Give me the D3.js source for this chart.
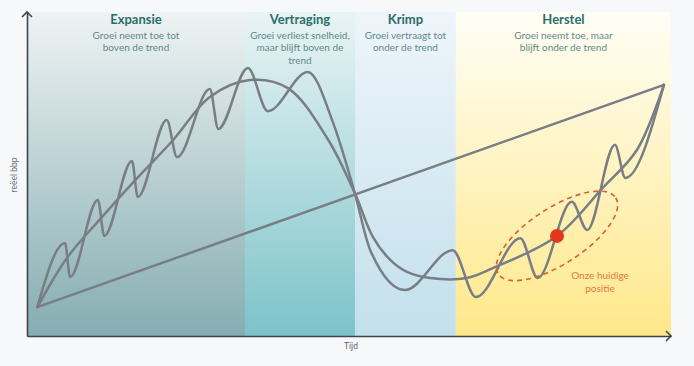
<!DOCTYPE html>
<html><head><meta charset="utf-8">
<script src="https://cdn.jsdelivr.net/npm/d3@7"></script>
<style>
html,body{margin:0;padding:0;background:#f7f8fa;}
svg{display:block;font-family:Lato,"Open Sans",sans-serif;}
</style></head><body>
<svg id="c" width="694" height="366"></svg>
<script>
// ---- data ----
const phases = ["Expansie", "Vertraging", "Krimp", "Herstel"];
const phaseStart = [0, 33.85, 50.93, 66.6];
const phaseEnd = [33.85, 50.93, 66.6, 100];
const phaseSub = [
  ["Groei neemt toe tot", "boven de trend"],
  ["Groei verliest snelheid,", "maar blijft boven de", "trend"],
  ["Groei vertraagt tot", "onder de trend"],
  ["Groei neemt toe, maar", "blijft onder de trend"]
];
const trendT = [1.6, 98.9];
const trendV = [8.9, 77.5];
const smoothT = [1.6, 6.2, 11.5, 16.8, 22.7, 28.4, 34.6, 40.5, 46.6, 50.9, 53.7, 56.4, 59.0, 62.6, 68.3, 72.4, 82.3, 89.4, 94.7, 98.9];
const smoothV = [8.9, 24.1, 36.4, 48.1, 60.5, 73.8, 79.0, 76.5, 61.1, 44.1, 30.6, 23.5, 19.8, 17.9, 17.9, 21.0, 30.9, 45.7, 57.4, 77.5];
const cycleT = [1.6, 5.9, 6.7, 11.0, 12.0, 16.3, 17.2, 21.7, 23.3, 28.4, 29.7, 34.3, 37.4, 43.6, 47.5, 50.9, 53.3, 58.7, 66.1, 69.7, 76.6, 79.3, 84.6, 87.0, 91.3, 92.9, 98.9];
const cycleV = [8.9, 28.7, 18.2, 42.0, 30.9, 54.0, 42.9, 66.7, 55.2, 76.2, 63.9, 82.7, 69.4, 81.5, 66.0, 44.1, 26.5, 14.2, 26.5, 12.0, 30.2, 17.9, 41.4, 32.7, 59.0, 48.8, 77.5];
const currentT = 82.3, currentV = 30.9;
const currentLabel = ["Onze huidige", "positie"];
const xLabel = "Tijd", yLabel = "reëel bbp";

// ---- layout ----
const svg = d3.select("#c");
const x = d3.scaleLinear().domain([0, 100]).range([27, 671]);
const y = d3.scaleLinear().domain([0, 100]).range([336, 12]);
const bandTop = ["#eef3f4", "#e9f4f5", "#eef5fa", "#fffef6"];
const bandBot = ["#85adb1", "#7cc3c9", "#c2e0ec", "#ffe88a"];

const defs = svg.append("defs");
phases.forEach((p, i) => {
  const g = defs.append("linearGradient").attr("id", "g" + i)
    .attr("x1", 0).attr("y1", 0).attr("x2", 0).attr("y2", 1);
  g.append("stop").attr("offset", "0%").attr("stop-color", bandTop[i]);
  g.append("stop").attr("offset", "100%").attr("stop-color", bandBot[i]);
});

svg.selectAll("rect.band").data(phases).join("rect").attr("class", "band")
  .attr("x", (d, i) => x(phaseStart[i]))
  .attr("width", (d, i) => x(phaseEnd[i]) - x(phaseStart[i]))
  .attr("y", y(100)).attr("height", y(0) - y(100))
  .attr("fill", (d, i) => `url(#g${i})`);

// headers
phases.forEach((p, i) => {
  const cx = (x(phaseStart[i]) + x(phaseEnd[i])) / 2;
  svg.append("text").attr("x", cx).attr("y", 24).attr("text-anchor", "middle")
    .attr("font-size", 13).attr("font-weight", 700).attr("fill", "#2b6e68").text(p);
  phaseSub[i].forEach((s, j) => {
    svg.append("text").attr("x", cx).attr("y", 38.5 + j * 12.5).attr("text-anchor", "middle")
      .attr("font-size", 10).attr("fill", "#5e8b88").text(s);
  });
});

// lines
const toPts = (T, V) => T.map((t, i) => [t, V[i]]);
const lineStyle = s => s.attr("fill", "none").attr("stroke", "#797e84").attr("stroke-width", 2.5)
  .attr("stroke-linejoin", "round").attr("stroke-linecap", "round");
svg.append("path").datum(toPts(trendT, trendV))
  .attr("d", d3.line().x(d => x(d[0])).y(d => y(d[1]))).call(lineStyle);
svg.append("path").datum(toPts(smoothT, smoothV))
  .attr("d", d3.line().x(d => x(d[0])).y(d => y(d[1])).curve(d3.curveCatmullRom.alpha(0.5))).call(lineStyle);
svg.append("path").datum(toPts(cycleT, cycleV))
  .attr("d", d3.line().x(d => x(d[0])).y(d => y(d[1])).curve(d3.curveMonotoneX)).call(lineStyle);

// current position annotation
svg.append("ellipse").attr("cx", x(currentT)).attr("cy", y(currentV))
  .attr("rx", 70).attr("ry", 28)
  .attr("transform", `rotate(-33 ${x(currentT)} ${y(currentV)})`)
  .attr("fill", "none").attr("stroke", "#d4612b").attr("stroke-width", 1.6)
  .attr("stroke-dasharray", "5,4");
svg.append("circle").attr("cx", x(currentT)).attr("cy", y(currentV)).attr("r", 7)
  .attr("fill", "#e0381c");
currentLabel.forEach((s, j) => {
  svg.append("text").attr("x", 600).attr("y", 279 + j * 13).attr("text-anchor", "middle")
    .attr("font-size", 10).attr("fill", "#e07a45").text(s);
});

// axes
const ax = svg.append("g").attr("transform", `translate(0,${y(0)})`)
  .call(d3.axisBottom(x).ticks(0).tickSizeOuter(0));
const ay = svg.append("g").attr("transform", `translate(${x(0)},0)`)
  .call(d3.axisLeft(y).ticks(0).tickSizeOuter(0));
[ax, ay].forEach(a => a.select(".domain").attr("stroke", "#3b464d").attr("stroke-width", 1.6));
svg.append("path").attr("d", `M${x(100) - 5},${y(0) - 5}L${x(100)},${y(0)}L${x(100) - 5},${y(0) + 5}`)
  .attr("fill", "none").attr("stroke", "#3b464d").attr("stroke-width", 1.6);
svg.append("path").attr("d", `M${x(0) - 5},${y(100) + 5}L${x(0)},${y(100)}L${x(0) + 5},${y(100) + 5}`)
  .attr("fill", "none").attr("stroke", "#3b464d").attr("stroke-width", 1.6);

svg.append("text").attr("x", (x(0) + x(100)) / 2 + 2).attr("y", 349).attr("text-anchor", "middle")
  .attr("font-size", 8.5).attr("fill", "#5d6268").text(xLabel);
svg.append("text").attr("transform", `translate(17,175) rotate(-90)`)
  .attr("text-anchor", "middle").attr("font-size", 8.5).attr("fill", "#6b7076").text(yLabel);
</script>
</body></html>
